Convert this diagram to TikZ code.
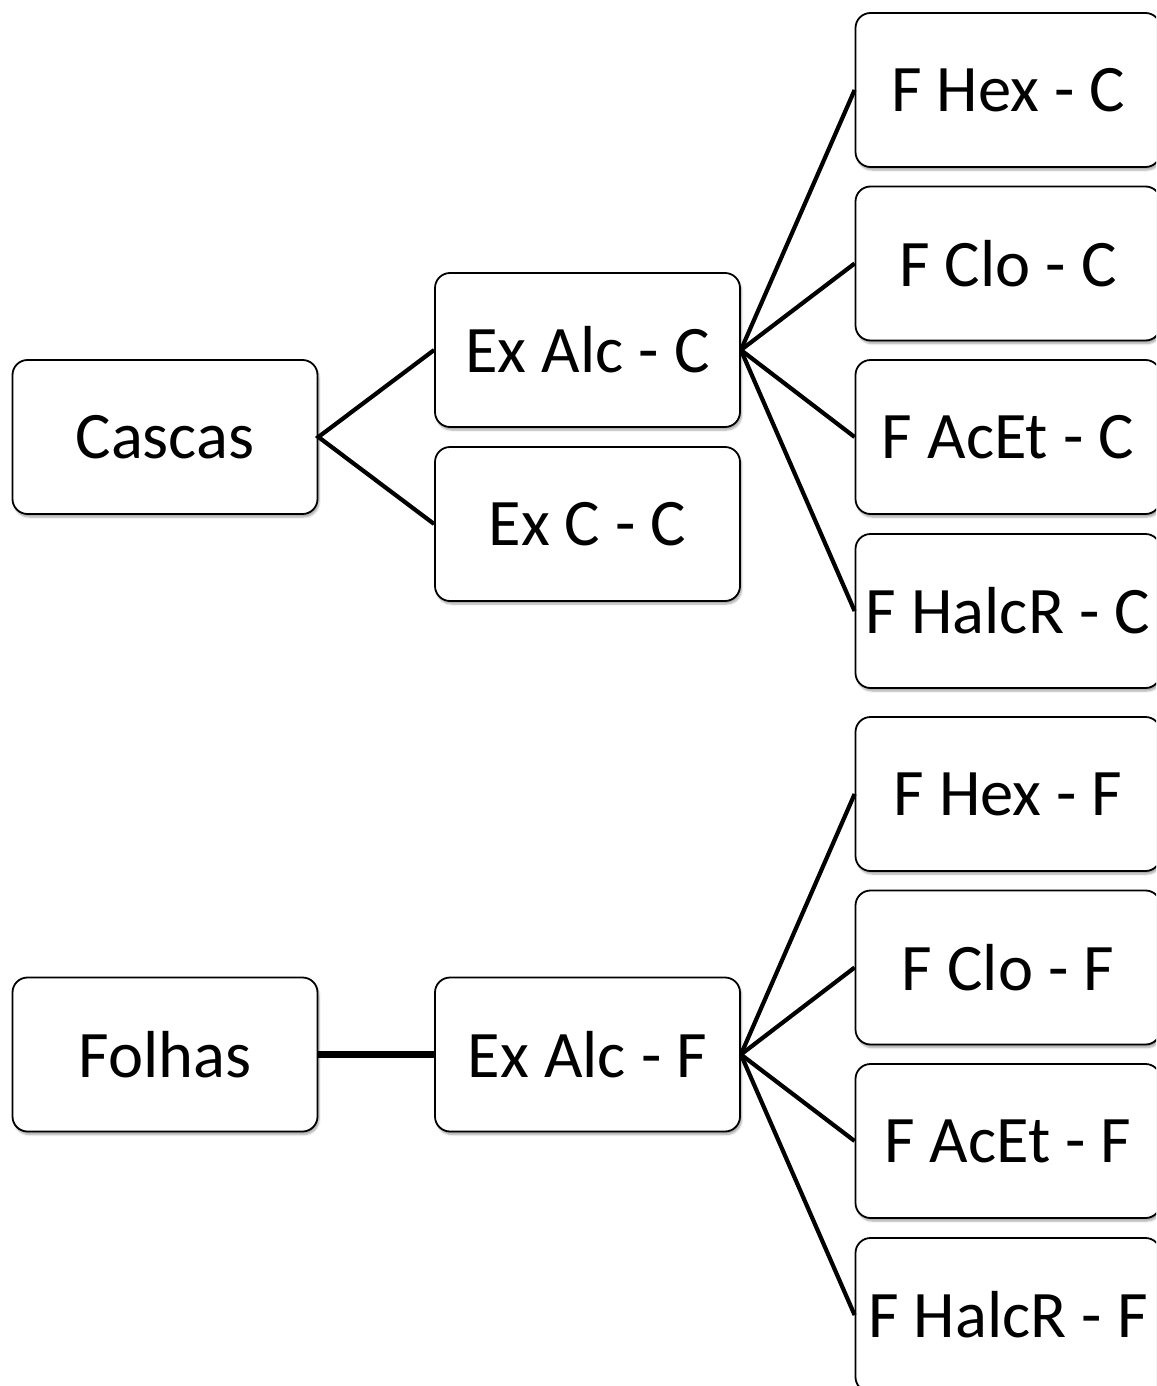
\documentclass[tikz,border=0pt]{standalone}
\usepackage{fontspec}
\setmainfont{Carlito}
\usetikzlibrary{shadows.blur}
\begin{document}
\begin{tikzpicture}[x=1pt,y=-1pt,
  box/.style={draw, line width=1.8pt, rounded corners=15pt, fill=white,
    minimum width=305pt, minimum height=154pt, inner sep=0pt,
    font=\fontsize{66.5}{70}\selectfont,
    blur shadow={shadow xshift=1.5pt, shadow yshift=-3pt, shadow blur steps=6, shadow opacity=35}},
  link/.style={line width=4.2pt},
  hlink/.style={line width=6.5pt}]
\useasboundingbox (0,0) rectangle (1156,1386);
\clip (0,0) rectangle (1156,1386);
\node[box] (cascas) at (165,437) {Cascas};
\node[box] (folhas) at (165,1054.5) {Folhas};
\node[box] (exalcc) at (587.5,350) {Ex Alc - C};
\node[box] (excc) at (587.5,524) {Ex C - C};
\node[box] (exalcf) at (587.5,1054.5) {Ex Alc - F};
\node[box] (fhexc) at (1008,90) {F Hex - C};
\node[box] (fcloc) at (1008,263.5) {F Clo - C};
\node[box] (facetc) at (1008,437) {F AcEt - C};
\node[box] (fhalcrc) at (1008,611) {F HalcR - C};
\node[box] (fhexf) at (1008,794) {F Hex - F};
\node[box] (fclof) at (1008,967.5) {F Clo - F};
\node[box] (facetf) at (1008,1141) {F AcEt - F};
\node[box] (fhalcrf) at (1008,1315) {F HalcR - F};
\draw[link] (exalcc.west) -- (cascas.east) -- (excc.west);
\draw[hlink] (folhas.east) -- (exalcf.west);
\foreach \t in {fhexc,fcloc,facetc,fhalcrc}
  \draw[link] (exalcc.east) -- (\t.west);
\foreach \t in {fhexf,fclof,facetf,fhalcrf}
  \draw[link] (exalcf.east) -- (\t.west);
\end{tikzpicture}
\end{document}
